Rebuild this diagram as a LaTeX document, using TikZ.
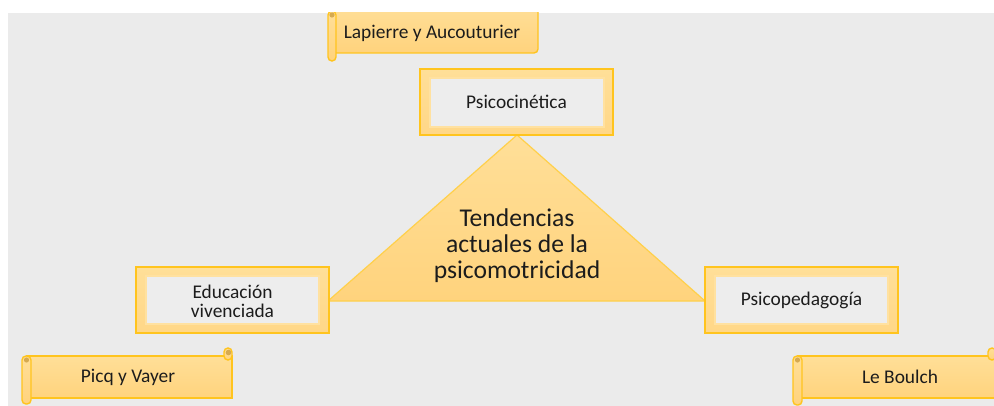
\documentclass[tikz,border=0pt]{standalone}
\usepackage{fontspec}
\setmainfont{Carlito}
\definecolor{bggray}{RGB}{235,235,235}
\definecolor{boxgray}{RGB}{237,237,237}
\definecolor{gold}{RGB}{255,196,30}
\definecolor{palegold}{RGB}{255,215,135}
\definecolor{lightgold}{RGB}{255,225,160}
\definecolor{scrolltop}{RGB}{255,223,152}
\definecolor{scrollbot}{RGB}{255,211,125}
\definecolor{dotgold}{RGB}{214,170,80}
\definecolor{textdark}{RGB}{28,28,28}

\begin{document}
\begin{tikzpicture}[x=0.5pt,y=-0.5pt,
  frame/.style={draw=gold,line width=0.7pt,top color=scrolltop,bottom color=palegold},
  innerframe/.style={draw=lightgold,line width=0.9pt,fill=boxgray},
  scroll/.style={draw=gold,line width=0.7pt,top color=scrolltop,bottom color=scrollbot},
  roll/.style={scroll,rounded corners=2pt},
  lbl/.style={text=textdark,font=\fontsize{9.7}{9.5}\selectfont,align=center,inner sep=0pt},
]
\useasboundingbox (0,0) rectangle (994,406);
\fill[white] (0,0) rectangle (994,406);
\begin{scope}
\clip (8,13) rectangle (994,406);
\fill[bggray] (8,13) rectangle (994,406);

% scroll Lapierre y Aucouturier
\draw[scroll,rounded corners=2pt] (332,5) rectangle (538,53);
\draw[roll] (328,11) rectangle (336,61);
\fill[dotgold] (332,15) circle (1.3pt);
\node[lbl] (lapierre) at (432,33) {Lapierre y Aucouturier};

% scroll Picq y Vayer
\draw[scroll] (27,356) rectangle (232,398);
\draw[roll] (224,348) rectangle (232,360);
\fill[dotgold] (228.5,352.5) circle (1.4pt);
\draw[roll] (22,356) rectangle (31,404);
\fill[dotgold] (26.5,360) circle (1.3pt);
\node[lbl] (picq) at (128,377) {Picq y Vayer};

% scroll Le Boulch
\draw[scroll] (798,356) rectangle (996,398);
\draw[roll] (988,348) rectangle (996,360);
\draw[roll] (793,356) rectangle (802,405);
\fill[dotgold] (797.5,360) circle (1.3pt);
\node[lbl] (leboulch) at (900,377) {Le Boulch};

% triangulo central
\draw[draw=gold!80,line width=0.6pt,top color=scrolltop,bottom color=scrollbot]
  (517,135) -- (705,301) -- (328,301) -- cycle;
\node[text=textdark,font=\fontsize{12.8}{13}\selectfont,align=center] (tend) at (517,246)
  {Tendencias\\actuales de la\\psicomotricidad};

% cajas
\draw[frame] (420,69) rectangle (613,135);
\draw[innerframe] (430,78) rectangle (604,127);
\node[lbl] (psicocin) at (516.5,102) {Psicocinética};

\draw[frame] (136,267) rectangle (329,333);
\draw[innerframe] (146,276) rectangle (319,324);
\node[lbl] (educ) at (232.5,301) {Educación\\vivenciada};

\draw[frame] (705,267) rectangle (898,333);
\draw[innerframe] (715,276) rectangle (888,324);
\node[lbl] (psicoped) at (801.5,300) {Psicopedagogía};
\end{scope}
\end{tikzpicture}
\end{document}
